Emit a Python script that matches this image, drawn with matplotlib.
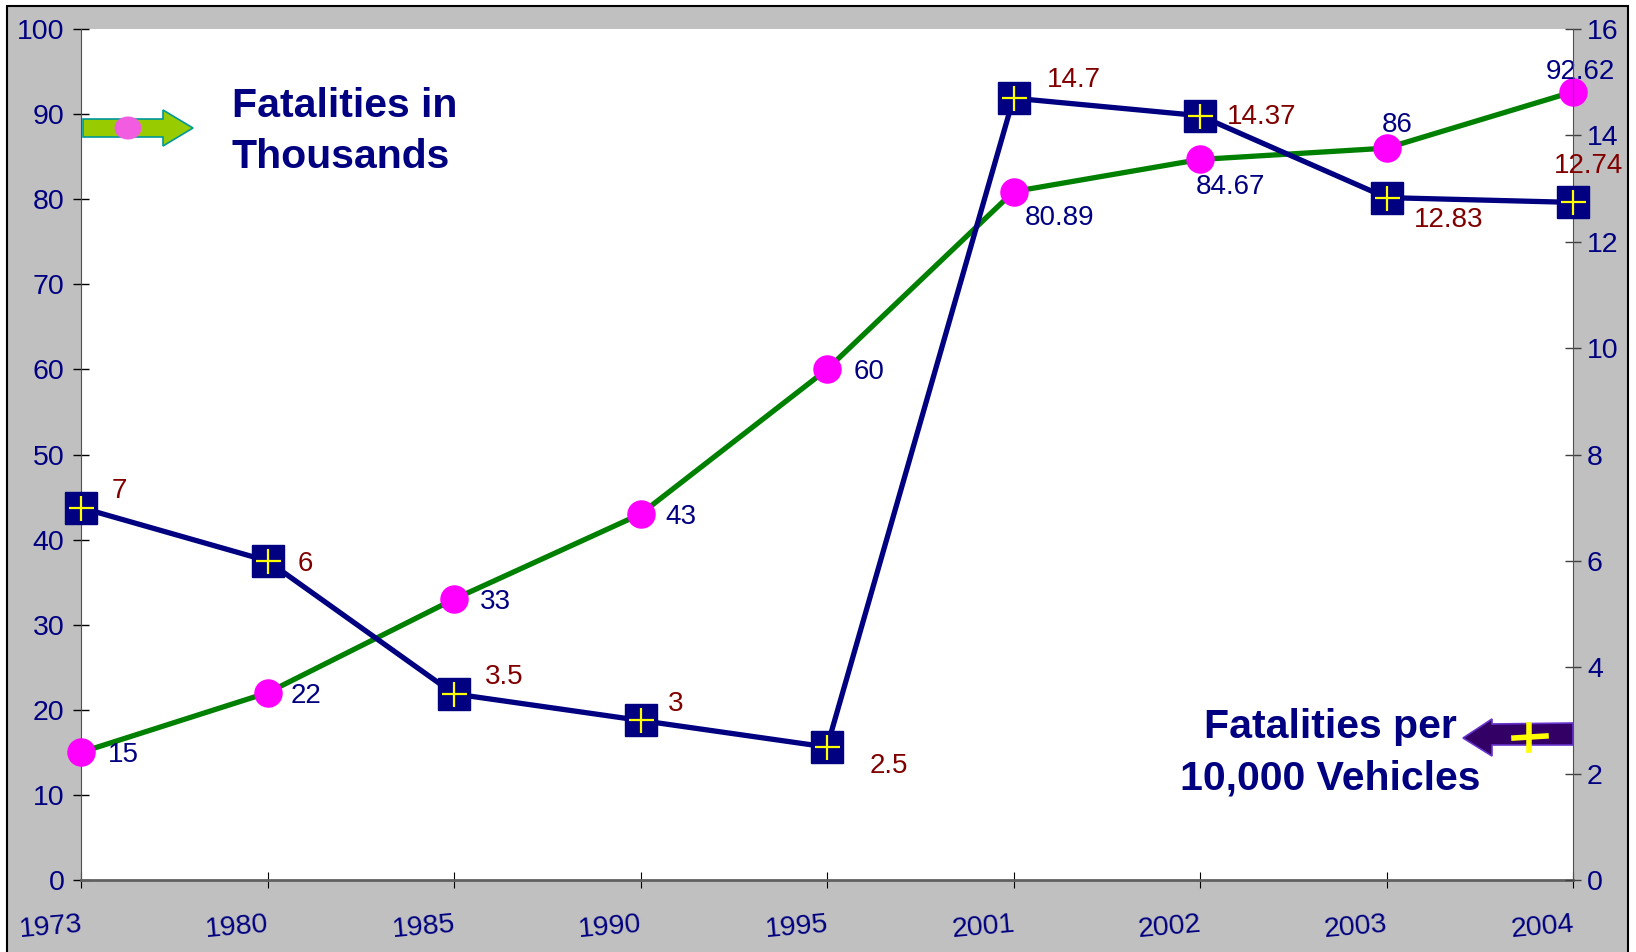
import numpy as np
import matplotlib
matplotlib.use("Agg")
import matplotlib.pyplot as plt
from matplotlib.patches import Rectangle, Polygon, Ellipse

plt.rcParams['font.family'] = ['Liberation Sans', 'DejaVu Sans']

years = ['1973', '1980', '1985', '1990', '1995', '2001', '2002', '2003', '2004']
fatalities = [15, 22, 33, 43, 60, 80.89, 84.67, 86, 92.62]
per_vehicles = [7, 6, 3.5, 3, 2.5, 14.7, 14.37, 12.83, 12.74]

# label offsets in points (dx, dy, ha)
fat_offsets = [(19, -2, 'left'), (17, -2, 'left'), (19, -2, 'left'), (18, -2, 'left'),
               (19, -2, 'left'), (8, -19, 'left'), (-3, -20, 'left'),
               (8, 17, 'center'), (5, 14, 'center')]
veh_offsets = [(22, 12, 'left'), (22, -2, 'left'), (22, 12, 'left'), (20, 12, 'left'),
               (31, -14, 'left'), (24, 13, 'left'), (19, -1, 'left'),
               (20, -16, 'left'), (11, 26, 'center')]

NAVY = '#000080'
DARKRED = '#800000'
W, H = 1636, 952

fig = plt.figure(figsize=(W / 100, H / 100), dpi=100, facecolor='white')
# grey chart area with black border
fig.patches.append(Rectangle((7 / W, -0.05), (1628 - 7) / W, 1 - 6 / H + 0.05,
                             transform=fig.transFigure, facecolor='#C0C0C0',
                             edgecolor='black', linewidth=1.5, zorder=-10))

ax = fig.add_axes([81 / W, 1 - 880 / H, (1573 - 81) / W, (880 - 29) / H])
ax.set_facecolor('white')
ax2 = ax.twinx()

x = np.arange(len(years))
ax.plot(x, fatalities, color='#008000', lw=3.8, marker='o', ms=19.5,
        mfc='#FF00FF', mec='#FF00FF', zorder=3, clip_on=False)
ax2.plot(x, per_vehicles, color=NAVY, lw=3.8, marker='s', ms=23,
         mfc=NAVY, mec=NAVY, zorder=3, clip_on=False)
ax2.plot(x, per_vehicles, ls='none', marker='+', ms=18, mew=1.6,
         color='yellow', zorder=4, clip_on=False)

ax.set_xlim(0, 8)
ax.set_ylim(0, 100)
ax2.set_ylim(0, 16)
ax.set_yticks(np.arange(0, 101, 10))
ax2.set_yticks(np.arange(0, 17, 2))
ax.set_xticks(x)
ax.set_xticklabels(years, rotation=5, ha='right', rotation_mode='anchor')

for a in (ax, ax2):
    a.spines['top'].set_visible(False)
ax.spines['right'].set_visible(False)
ax.spines['left'].set_color('#505050')
ax.spines['bottom'].set_color('#606060')
ax.spines['bottom'].set_linewidth(2)
ax2.spines['left'].set_visible(False)
ax2.spines['bottom'].set_visible(False)
ax2.spines['right'].set_color('#505050')

ax.tick_params(axis='y', direction='inout', length=12, width=1, color='black',
               labelsize=20.5, labelcolor=NAVY, pad=6)
ax.tick_params(axis='x', direction='inout', length=12, width=0.8, color='black',
               labelsize=20.5, labelcolor=NAVY, pad=17)
ax2.tick_params(axis='y', direction='inout', length=12, width=1, color='#404040',
                labelsize=20.5, labelcolor=NAVY, pad=4)

for i, v in enumerate(fatalities):
    dx, dy, ha = fat_offsets[i]
    ax.annotate(f'{v:g}', (x[i], v), xytext=(dx, dy), textcoords='offset points',
                ha=ha, va='center', fontsize=20, color=NAVY, zorder=6,
                annotation_clip=False)
for i, v in enumerate(per_vehicles):
    dx, dy, ha = veh_offsets[i]
    ax2.annotate(f'{v:g}', (x[i], v), xytext=(dx, dy), textcoords='offset points',
                 ha=ha, va='center', fontsize=20, color=DARKRED, zorder=6,
                 annotation_clip=False)

# legend-like captions
fig.text(232 / W, 1 - 117 / H, 'Fatalities in', fontsize=29.5, fontweight='bold',
         color=NAVY, ha='left', va='baseline')
fig.text(232 / W, 1 - 168 / H, 'Thousands', fontsize=29.5, fontweight='bold',
         color=NAVY, ha='left', va='baseline')
fig.text(1330 / W, 1 - 738 / H, 'Fatalities per', fontsize=29.5, fontweight='bold',
         color=NAVY, ha='center', va='baseline')
fig.text(1330 / W, 1 - 789 / H, '10,000 Vehicles', fontsize=29.5, fontweight='bold',
         color=NAVY, ha='center', va='baseline')


def px(pts):
    return [(a / W, 1 - b / H) for a, b in pts]


# green arrow pointing right
green_arrow = px([(83, 119), (163, 119), (163, 110), (193, 128), (163, 146),
                  (163, 137), (83, 137)])
fig.patches.append(Polygon(green_arrow, closed=True, transform=fig.transFigure,
                           facecolor='#99CC00', edgecolor='#009999', lw=1.2, zorder=5))
fig.patches.append(Ellipse((128 / W, 1 - 128 / H), 27 / W, 23 / H,
                           transform=fig.transFigure, facecolor='#F25CE0',
                           edgecolor='none', zorder=6))

# purple arrow pointing left
purple_arrow = px([(1463, 738), (1492, 719), (1492, 724), (1573, 723),
                   (1573, 745), (1492, 745), (1492, 756)])
fig.patches.append(Polygon(purple_arrow, closed=True, transform=fig.transFigure,
                           facecolor='#330066', edgecolor='#6633CC', lw=1.2, zorder=5))
fig.lines.append(plt.Line2D([1514 / W, 1546 / W], [1 - 738 / H, 1 - 736 / H],
                            transform=fig.transFigure, color='yellow', lw=4, zorder=6))
fig.lines.append(plt.Line2D([1529 / W, 1529 / W], [1 - 725 / H, 1 - 750 / H],
                            transform=fig.transFigure, color='yellow', lw=4, zorder=6))

fig.savefig('out.png', dpi=100, facecolor='white')
